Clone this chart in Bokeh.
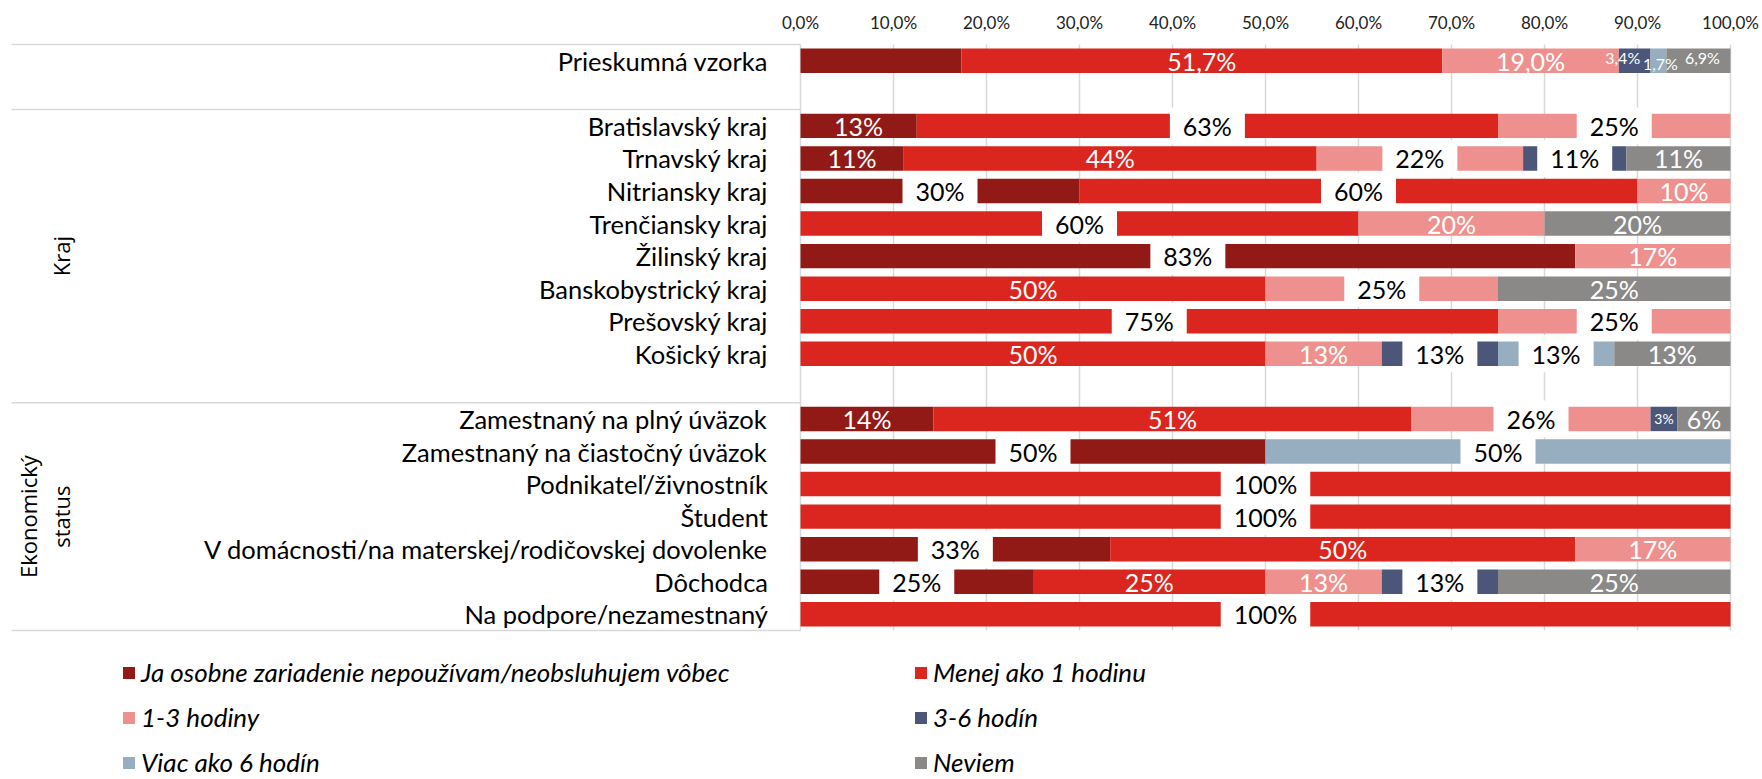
import math
from bokeh.plotting import figure
from bokeh.models import Range1d, LinearAxis, FixedTicker, ColumnDataSource, Legend, LegendItem
from bokeh.core.properties import value
from bokeh.embed import file_html
from bokeh.resources import INLINE

# ---------------- data ----------------
categories = [
    "Prieskumná vzorka", "",
    "Bratislavský kraj", "Trnavský kraj", "Nitriansky kraj", "Trenčiansky kraj",
    "Žilinský kraj", "Banskobystrický kraj", "Prešovský kraj", "Košický kraj", "",
    "Zamestnaný na plný úväzok", "Zamestnaný na čiastočný úväzok",
    "Podnikateľ/živnostník", "Študent",
    "V domácnosti/na materskej/rodičovskej dovolenke", "Dôchodca",
    "Na podpore/nezamestnaný",
]
group_names = ["", "Kraj", "Ekonomický\nstatus"]
group_starts = [0, 2, 11]
group_ends = [2, 11, 18]

series_names = [
    "Ja osobne zariadenie nepoužívam/neobsluhujem vôbec",
    "Menej ako 1 hodinu",
    "1-3 hodiny",
    "3-6 hodín",
    "Viac ako 6 hodín",
    "Neviem",
]
nepouzivam = [17.3, 0, 12.5, 11.1, 30, 0, 83.3, 0, 0, 0, 0, 14.3, 50, 0, 0, 33.3, 25, 0]
menej_1h   = [51.7, 0, 62.5, 44.4, 60, 60, 0, 50, 75, 50, 0, 51.4, 0, 100, 100, 50, 25, 100]
hod_1_3    = [19.0, 0, 25, 22.2, 10, 20, 16.7, 25, 25, 12.5, 0, 25.7, 0, 0, 0, 16.7, 12.5, 0]
hod_3_6    = [3.4, 0, 0, 11.1, 0, 0, 0, 0, 0, 12.5, 0, 2.9, 0, 0, 0, 0, 12.5, 0]
viac_6     = [1.7, 0, 0, 0, 0, 0, 0, 0, 0, 12.5, 0, 0, 50, 0, 0, 0, 0, 0]
neviem     = [6.9, 0, 0, 11.2, 0, 20, 0, 25, 0, 12.5, 0, 5.7, 0, 0, 0, 0, 25, 0]
series_values = [nepouzivam, menej_1h, hod_1_3, hod_3_6, viac_6, neviem]

tick_values = [0, 10, 20, 30, 40, 50, 60, 70, 80, 90, 100]
tick_labels = ["0,0%", "10,0%", "20,0%", "30,0%", "40,0%", "50,0%",
               "60,0%", "70,0%", "80,0%", "90,0%", "100,0%"]

# ---------------- styles ----------------
colors = ["#921A16", "#DA261E", "#EE918E", "#4B5679", "#97AEC0", "#8B8987"]
decimal_rows = {0}                      # rows labelled with one decimal
hidden_labels = {(0, 0)}
boxed_labels = {(2, 1), (2, 2), (3, 2), (3, 3), (4, 0), (4, 1), (5, 1), (6, 0),
                (7, 2), (8, 1), (8, 2), (9, 3), (9, 4), (11, 2), (12, 0), (12, 4),
                (13, 1), (14, 1), (15, 0), (16, 0), (16, 3), (17, 1)}
small_labels = {(0, 3): 16, (0, 4): 16, (0, 5): 16, (11, 3): 14}
label_nudge = {(0, 3): (-12, -3), (0, 4): (2, 3), (0, 5): (4, -3)}
LABEL_SIZE = 25
FONT = "Lato"

# ---------------- layout ----------------
W, H = 1762, 779
X0 = 800            # px of 0 %
PX_PCT = 9.3        # px per percent
ROW = 32.56         # px per row
TOP = 44            # px of first row top
FRAME_TOP = 42
group_label_x = {1: [60], 2: [27, 60]}

x_range = Range1d(-X0 / PX_PCT, (W - X0) / PX_PCT)
y_range = Range1d((H - TOP) / ROW, (FRAME_TOP - TOP) / ROW)

p = figure(width=W, height=H, x_range=x_range, y_range=y_range,
           output_backend="svg", toolbar_location=None,
           x_axis_location=None, y_axis_location=None,
           min_border_left=0, min_border_right=0, min_border_bottom=0,
           min_border_top=FRAME_TOP)
p.outline_line_color = None
for g in p.grid:
    g.visible = False

ax = LinearAxis(ticker=FixedTicker(ticks=tick_values),
                major_label_overrides={v: l for v, l in zip(tick_values, tick_labels)},
                axis_line_color=None, major_tick_line_color=None,
                minor_tick_line_color=None, major_label_standoff=4,
                major_label_text_font=FONT, major_label_text_font_size="17px",
                major_label_text_color="#222222")
p.add_layout(ax, "above")

n = len(categories)
ys = [i + 0.5 for i in range(n)]

# vertical grid lines
p.segment(x0=tick_values, y0=[0] * len(tick_values), x1=tick_values,
          y1=[n] * len(tick_values), line_color="#D9D9D9", line_width=1.5)

# group separator lines
bounds = sorted(set(group_starts + group_ends))
left_edge = -(X0 - 11) / PX_PCT
p.segment(x0=[left_edge] * len(bounds), y0=bounds, x1=[0] * len(bounds), y1=bounds,
          line_color="#D9D9D9", line_width=1.5)

# bars
renderers = []
cum = [0.0] * n
lab_x, lab_y, lab_t, lab_c, lab_s, lab_dx, lab_dy = [], [], [], [], [], [], []
box_x, box_y, box_w = [], [], []


def text_width(t, size):
    w = 0.0
    for ch in t:
        if ch.isdigit():
            w += 0.58
        elif ch == "%":
            w += 0.80
        else:
            w += 0.25
    return w * size


for k, vals in enumerate(series_values):
    left = cum[:]
    right = [a + b for a, b in zip(cum, vals)]
    src = ColumnDataSource(dict(y=ys, left=left, right=right))
    r = p.hbar(y="y", left="left", right="right", height=0.75, source=src,
               fill_color=colors[k], line_color=None)
    renderers.append(r)
    for i, v in enumerate(vals):
        if v <= 0 or (i, k) in hidden_labels:
            continue
        if i in decimal_rows:
            t = f"{v:.1f}".replace(".", ",") + "%"
        else:
            t = f"{math.floor(v + 0.5)}%"
        size = small_labels.get((i, k), LABEL_SIZE)
        dx, dy = label_nudge.get((i, k), (0, 0))
        cx = (left[i] + right[i]) / 2
        lab_x.append(cx); lab_y.append(ys[i]); lab_t.append(t)
        lab_s.append(f"{size}px"); lab_dx.append(dx); lab_dy.append(dy)
        if (i, k) in boxed_labels:
            lab_c.append("#000000")
            box_x.append(cx); box_y.append(ys[i]); box_w.append(text_width(t, size) + 26)
        else:
            lab_c.append("#FFFFFF")
    cum = right

p.rect(x=box_x, y=box_y, width=box_w, height=37, width_units="screen",
       height_units="screen", fill_color="white", line_color=None)

p.text(x=lab_x, y=lab_y, text=lab_t, text_color=lab_c, text_font_size=lab_s,
       x_offset=lab_dx, y_offset=lab_dy, text_font=value(FONT),
       text_align="center", text_baseline="middle")

# row labels (category axis text)
row_idx = [i for i, c in enumerate(categories) if c]
p.text(x=[0] * len(row_idx), y=[ys[i] for i in row_idx],
       text=[categories[i] for i in row_idx], x_offset=-32.5,
       text_font=value(FONT), text_font_size="25.5px", text_color="#000000",
       text_align="right", text_baseline="middle")

# group labels (rotated)
g_x, g_y, g_t, g_dx = [], [], [], []
for gi, (name, s, e) in enumerate(zip(group_names, group_starts, group_ends)):
    if not name:
        continue
    for ln, px in zip(name.split("\n"), group_label_x[gi]):
        g_x.append(0); g_y.append((s + e) / 2); g_t.append(ln)
        g_dx.append(px - X0)
p.text(x=g_x, y=g_y, text=g_t, x_offset=g_dx, angle=math.pi / 2,
       text_font=value("Open Sans"), text_font_size="22px", text_color="#000000",
       text_align="center", text_baseline="middle")

# legend (two columns)
items = [LegendItem(label=nm, renderers=[r]) for nm, r in zip(series_names, renderers)]
common = dict(label_text_font=FONT, label_text_font_style="italic",
              label_text_font_size="26px", label_text_color="#000000",
              glyph_width=15, glyph_height=15, label_standoff=5, spacing=13,
              padding=0, margin=0, border_line_alpha=0, background_fill_alpha=0)
leg1 = Legend(items=items[0::2], location=(121, 1), **common)
leg2 = Legend(items=items[1::2], location=(913, 1), **common)
p.add_layout(leg1)
p.add_layout(leg2)

open("out.html", "w").write(file_html(p, INLINE))
